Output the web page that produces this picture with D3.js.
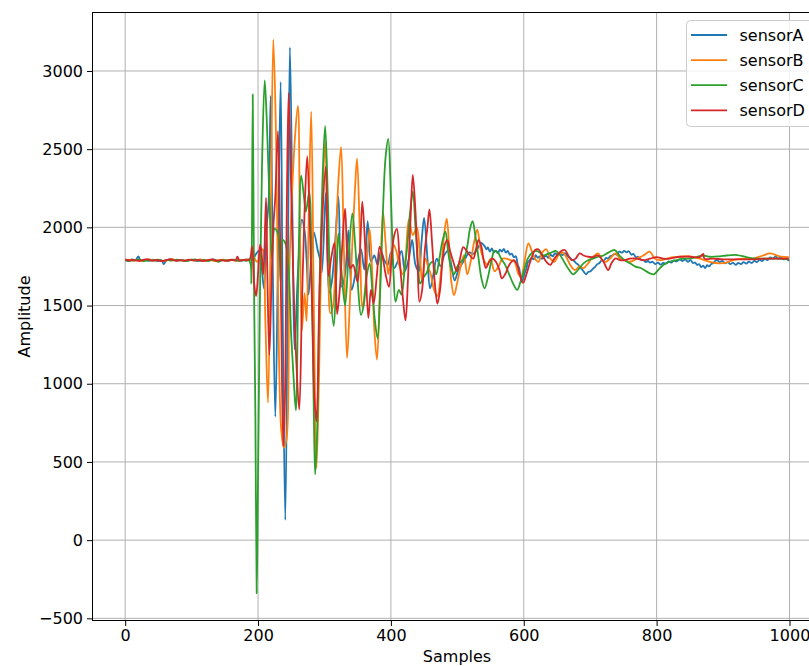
<!DOCTYPE html>
<html>
<head>
<meta charset="utf-8">
<script src="https://cdn.jsdelivr.net/npm/d3@7"></script>
<style>
  body { margin: 0; background: #fff; }
  svg { display: block; font-family: "DejaVu Sans", sans-serif; }
</style>
</head>
<body>
<svg id="chart" width="809" height="666"></svg>
<script>
// ---------------- DATA ----------------
const seriesNames = ["sensorA", "sensorB", "sensorC", "sensorD"];
const seriesColors = ["#1f77b4", "#ff7f0e", "#2ca02c", "#d62728"];
const xTicks = [0, 200, 400, 600, 800, 1000];
const yTicks = [-500, 0, 500, 1000, 1500, 2000, 2500, 3000];

// [sample, amplitude]
const sensorA = [
[0,1790],[5,1785],[10,1795],[15,1788],[20,1815],[23,1785],[30,1792],[36,1786],[42,1793],[48,1784],[55,1790],[58,1765],[62,1788],[70,1795],[78,1786],[85,1792],[92,1787],[100,1794],[108,1785],[116,1790],[124,1787],[132,1795],[140,1786],[148,1792],[156,1788],[164,1794],[172,1786],[180,1792],[186,1795],
[188,1790],[193,1800],[197,1830],[201,1850],[205,1760],[209,1610],[213,2000],[216,2170],[219,2840],[222,1800],[226,790],[230,1800],[234,2930],[237,1500],[241,130],[245,1800],[248,3150],[252,2000],[255,1220],[260,1700],[266,2050],[270,1980],[273,1800],[276,1570],[280,1800],[284,1970],[290,1850],[293,1800],[296,1710],[302,2220],[307,1580],[311,1650],[316,1900],[321,2196],[326,1620],[331,1700],[336,1980],[341,1600],[346,1690],[351,1800],[355,1860],[360,1730],[365,2040],[370,1780],[375,1820],[380,1760],[385,1850],[390,1790],[395,1760],[400,1840],[405,1740],[410,1780],[416,1850],[421,1720],[427,1800],[432,1920],[437,1760],[442,1720],[446,1900],[450,2060],[455,1800],[459,1610],[464,1700],[469,1800],[475,1750],[480,1820],[486,1850],[491,1760],[496,1660],[501,1720],[506,1760],[512,1800],[518,1840],[524,1830],[530,1860],[536,1900],
[541,1880],[544,1860],[546,1872],[549,1845],[552,1865],[555,1840],[558,1850],[561,1835],[564,1858],[567,1845],[570,1862],[573,1838],[576,1850],[579,1825],[582,1832],[585,1810],[588,1815],[591,1760],[593,1740],[595,1690],[597,1652],[599,1670],[602,1715],[604,1735],[606,1775],[609,1790],[612,1805],[615,1795],[618,1822],[621,1805],[624,1815],[627,1798],[630,1808],[634,1818],[637,1805],[640,1825],[644,1815],[647,1835],[650,1825],[654,1838],[658,1822],[662,1835],[666,1815],[669,1808],[672,1795],[676,1785],[679,1770],[682,1762],[685,1740],[688,1730],[691,1712],[694,1700],[697,1715],[700,1718],[704,1735],[707,1745],[710,1762],[714,1772],[717,1788],[720,1785],[724,1805],[727,1800],[730,1815],[734,1822],[737,1830],[740,1825],[744,1845],[748,1838],[751,1850],[755,1840],[758,1848],[762,1825],[765,1830],[769,1808],[772,1812],[776,1795],[780,1790],[784,1778],[787,1785],[790,1775],[794,1780],[798,1765],[802,1775],[806,1762],[810,1772],[814,1768],[818,1782],[822,1775],[826,1788],[830,1782],[835,1795],[839,1785],[843,1795],[847,1780],[851,1790],[855,1772],[858,1775],[861,1760],[864,1765],[867,1745],[870,1755],[873,1740],[876,1758],[879,1750],[882,1765],[885,1770],[888,1785],[891,1790],[895,1778],[899,1785],[903,1770],[907,1778],[911,1765],[915,1775],[919,1760],[923,1772],[927,1765],[931,1778],[935,1768],[939,1780],[943,1772],[947,1785],[951,1778],[955,1792],[959,1785],[963,1798],[967,1790],[971,1808],[975,1800],[979,1815],[983,1800],[987,1808],[991,1795],[995,1800],[999,1785]
];

const sensorB = [
[0,1788],[6,1794],[12,1786],[18,1792],[24,1784],[30,1790],[37,1795],[44,1787],[50,1791],[57,1783],[64,1790],[71,1796],[78,1787],[85,1791],[92,1785],[99,1793],[106,1788],[113,1795],[120,1786],[127,1792],[134,1784],[141,1790],[148,1794],[155,1787],[162,1793],[169,1786],[176,1791],[183,1795],
[187,1790],[190,1800],[192,1870],[195,1800],[199,1780],[203,1830],[207,1860],[211,1400],[215,880],[219,2000],[223,3200],[227,2600],[231,1300],[235,700],[239,590],[243,650],[247,1700],[251,2200],[256,2600],[260,2777],[263,2000],[266,1340],[270,1580],[273,1400],[276,2000],[280,2740],[284,1500],[288,460],[292,1100],[296,2000],[301,2548],[305,1900],[309,1450],[313,1500],[317,1900],[321,2300],[325,2515],[329,1900],[334,1165],[338,1500],[342,1900],[346,2250],[349,2440],[353,2000],[357,1490],[361,1600],[365,1850],[368,1990],[372,1700],[375,1350],[379,1155],[383,1550],[388,2100],[392,1900],[396,1700],[400,1820],[404,1890],[408,1850],[413,1750],[418,1700],[422,1800],[427,2050],[433,1950],[439,2000],[444,1800],[447,1650],[452,1800],[456,1750],[460,1700],[465,1600],[470,1560],[475,1700],[480,1950],[484,2055],[488,1850],[491,1650],[495,1565],[500,1650],[505,1750],[510,1820],[515,1700],[520,1780],[525,1900],[530,1985],[535,1860],[540,1790],[545,1760],[550,1800],[556,1720],[562,1750],[568,1800],[574,1800],[580,1790],[586,1780],[592,1700],[596,1684],[601,1780],[607,1898],[612,1850],[617,1800],[622,1780],[628,1840],[634,1860],[640,1800],[646,1780],[652,1820],[658,1840],[664,1810],[670,1760],[677,1727],[684,1750],[690,1740],[697,1770],[704,1810],[712,1834],[718,1790],[724,1780],[730,1800],[738,1834],[745,1800],[752,1790],[760,1780],[770,1800],[780,1820],[790,1844],[797,1800],[805,1790],[815,1800],[825,1810],[835,1812],[850,1815],[865,1800],[880,1780],[895,1770],[905,1775],[915,1790],[930,1800],[945,1800],[960,1820],[971,1834],[985,1815],[999,1810]
];

const sensorC = [
[0,1792],[7,1786],[14,1791],[21,1795],[28,1785],[35,1790],[42,1788],[49,1794],[56,1784],[63,1792],[70,1787],[77,1793],[84,1789],[91,1784],[98,1791],[105,1795],[112,1787],[119,1790],[126,1786],[133,1793],[140,1780],[147,1791],[154,1787],[161,1794],[168,1788],[175,1791],[182,1786],
[186,1790],[189,1760],[190,1640],[192,2850],[194,1600],[196,800],[198,-340],[200,400],[203,1600],[206,2400],[210,2940],[213,2700],[217,2200],[221,1800],[225,1990],[230,1960],[234,1650],[237,1920],[241,1900],[245,1800],[250,1300],[254,1000],[257,830],[261,1800],[265,2330],[269,2200],[272,2100],[277,2225],[281,1600],[284,800],[286,420],[289,700],[293,1700],[297,2300],[301,2648],[305,2200],[309,1600],[314,1370],[318,1700],[321,1960],[326,1700],[331,1500],[336,1800],[342,2090],[346,1900],[350,1650],[355,1440],[359,1500],[364,1700],[368,1770],[372,1600],[376,1400],[380,1290],[384,1600],[388,2100],[392,2450],[396,2565],[400,2200],[404,1700],[407,1525],[412,1600],[416,1570],[420,1700],[425,1900],[429,2100],[433,2230],[437,2000],[441,1750],[444,1640],[449,1680],[454,1710],[458,1760],[463,1780],[468,1700],[473,1800],[477,1900],[482,1972],[486,1850],[490,1750],[495,1700],[500,1750],[505,1780],[510,1800],[515,1880],[519,1990],[523,2040],[527,1950],[532,1800],[536,1680],[541,1610],[546,1680],[551,1780],[556,1850],[561,1840],[566,1800],[572,1760],[578,1700],[584,1640],[590,1600],[595,1650],[600,1720],[606,1800],[612,1835],[618,1850],[624,1840],[630,1820],[636,1830],[642,1840],[648,1850],[655,1820],[662,1770],[668,1730],[674,1700],[677,1706],[684,1740],[690,1770],[697,1790],[704,1800],[712,1812],[720,1820],[728,1840],[737,1855],[744,1820],[752,1790],[760,1770],[768,1749],[776,1740],[784,1720],[790,1706],[796,1700],[803,1730],[810,1760],[820,1780],[830,1790],[840,1800],[850,1800],[860,1810],[870,1820],[880,1812],[895,1815],[905,1820],[921,1823],[935,1810],[950,1800],[965,1800],[980,1800],[999,1795]
];

const sensorD = [
[0,1795],[6,1788],[12,1793],[19,1786],[26,1791],[33,1797],[40,1787],[47,1792],[54,1785],[61,1790],[68,1796],[75,1788],[82,1791],[89,1786],[96,1794],[103,1788],[110,1792],[117,1785],[124,1791],[131,1795],[138,1787],[145,1790],[152,1786],[159,1793],[166,1788],[169,1812],[172,1789],[179,1792],
[185,1790],[188,1800],[191,1880],[194,1650],[197,1560],[200,1700],[203,1890],[205,1850],[208,1700],[212,2190],[214,1700],[217,1185],[220,1600],[223,2000],[226,2200],[230,2615],[233,2000],[235,1400],[238,600],[241,1000],[243,2000],[246,2860],[249,2400],[253,1700],[257,1200],[262,835],[266,1500],[270,2100],[274,2455],[278,2000],[282,1400],[285,900],[288,760],[292,1500],[296,2000],[302,2390],[306,1690],[310,1800],[315,1900],[319,1445],[323,1600],[327,1900],[331,2120],[335,1800],[339,1740],[343,1760],[347,1700],[350,1650],[354,1900],[357,2165],[361,1900],[366,1420],[370,1600],[374,1514],[379,1700],[383,1876],[388,1800],[392,1700],[397,1620],[401,1800],[405,1950],[409,1990],[413,1800],[418,1550],[422,1405],[426,1700],[430,2100],[433,2335],[437,2100],[440,1800],[443,1524],[447,1600],[451,1850],[455,2000],[458,2115],[462,1900],[466,1650],[470,1512],[474,1600],[478,1800],[482,1900],[485,1918],[489,1850],[494,1780],[499,1720],[504,1800],[509,1874],[514,1850],[519,1820],[524,1800],[528,1860],[532,1920],[536,1880],[540,1780],[543,1740],[548,1780],[553,1800],[558,1780],[563,1733],[567,1674],[572,1700],[578,1760],[585,1791],[590,1760],[594,1700],[599,1645],[604,1700],[609,1770],[613,1820],[617,1855],[622,1860],[628,1820],[634,1780],[640,1760],[646,1800],[652,1830],[657,1850],[662,1855],[667,1820],[672,1791],[678,1800],[684,1834],[690,1820],[697,1812],[704,1810],[712,1820],[720,1780],[727,1727],[732,1770],[738,1802],[745,1790],[752,1790],[760,1800],[770,1800],[780,1790],[790,1800],[800,1810],[810,1800],[820,1800],[835,1812],[850,1812],[865,1810],[870,1830],[872,1800],[885,1800],[900,1795],[915,1795],[930,1795],[945,1795],[960,1800],[975,1800],[990,1800],[999,1800]
];

const seriesData = [sensorA, sensorB, sensorC, sensorD];

// ---------------- LAYOUT ----------------
const svg = d3.select("#chart");
const plot = { left: 92, top: 12, right: 822, bottom: 621 };

const x = d3.scaleLinear().domain([-49.95, 1048.95]).range([plot.left, plot.right]);
const y = d3.scaleLinear().domain([-517, 3377]).range([plot.bottom, plot.top]);

svg.append("defs").append("clipPath").attr("id", "clip")
  .append("rect").attr("x", plot.left).attr("y", plot.top)
  .attr("width", plot.right - plot.left).attr("height", plot.bottom - plot.top);

// grid
const grid = svg.append("g");
grid.selectAll("line.vx").data(xTicks).enter().append("line")
  .attr("x1", d => x(d)).attr("x2", d => x(d))
  .attr("y1", plot.top).attr("y2", plot.bottom)
  .attr("stroke", "#b0b0b0").attr("stroke-width", 1);
grid.selectAll("line.hy").data(yTicks).enter().append("line")
  .attr("x1", plot.left).attr("x2", plot.right)
  .attr("y1", d => y(d)).attr("y2", d => y(d))
  .attr("stroke", "#b0b0b0").attr("stroke-width", 1);

// lines
const line = d3.line()
  .x(d => x(d[0])).y(d => y(d[1]))
  .curve(d3.curveCatmullRom.alpha(0.5));

const lines = svg.append("g").attr("clip-path", "url(#clip)");
seriesData.forEach((data, i) => {
  lines.append("path").datum(data)
    .attr("d", line)
    .attr("fill", "none")
    .attr("stroke", seriesColors[i])
    .attr("stroke-width", 1.8)
    .attr("stroke-linejoin", "round");
});

// axes
const fmt = d => d < 0 ? "\u2212" + Math.abs(d) : String(d);
const xAxis = svg.append("g").attr("transform", `translate(0,${plot.bottom})`)
  .call(d3.axisBottom(x).tickValues(xTicks).tickFormat(fmt).tickSize(5).tickPadding(4));
const yAxis = svg.append("g").attr("transform", `translate(${plot.left},0)`)
  .call(d3.axisLeft(y).tickValues(yTicks).tickFormat(fmt).tickSize(5).tickPadding(4));
[xAxis, yAxis].forEach(a => {
  a.select(".domain").remove();
  a.selectAll("text").attr("font-size", 16).attr("fill", "#000")
    .attr("font-family", "DejaVu Sans, sans-serif");
  a.selectAll("line").attr("stroke", "#000").attr("stroke-width", 1);
});

// frame
svg.append("rect").attr("x", plot.left + 0.5).attr("y", plot.top + 0.5)
  .attr("width", plot.right - plot.left).attr("height", plot.bottom - plot.top - 1)
  .attr("fill", "none").attr("stroke", "#000").attr("stroke-width", 1);

// axis labels
svg.append("text").attr("x", (plot.left + plot.right) / 2).attr("y", 662)
  .attr("text-anchor", "middle").attr("font-size", 16).text("Samples");
svg.append("text").attr("transform", `translate(30,${(plot.top + plot.bottom) / 2}) rotate(-90)`)
  .attr("text-anchor", "middle").attr("font-size", 16).text("Amplitude");

// legend
const lg = svg.append("g").attr("transform", "translate(686,20)");
lg.append("rect").attr("x", 0.5).attr("y", 0.5).attr("width", 140).attr("height", 106)
  .attr("rx", 4).attr("fill", "#fff").attr("fill-opacity", 0.8)
  .attr("stroke", "#cccccc").attr("stroke-width", 1);
seriesNames.forEach((name, i) => {
  const cy = 15 + i * 25.1;
  lg.append("line").attr("x1", 5).attr("x2", 41).attr("y1", cy).attr("y2", cy)
    .attr("stroke", seriesColors[i]).attr("stroke-width", 1.8);
  lg.append("text").attr("x", 53.5).attr("y", cy).attr("dy", "0.36em")
    .attr("font-size", 16).attr("fill", "#000").text(name);
});
</script>
</body>
</html>
